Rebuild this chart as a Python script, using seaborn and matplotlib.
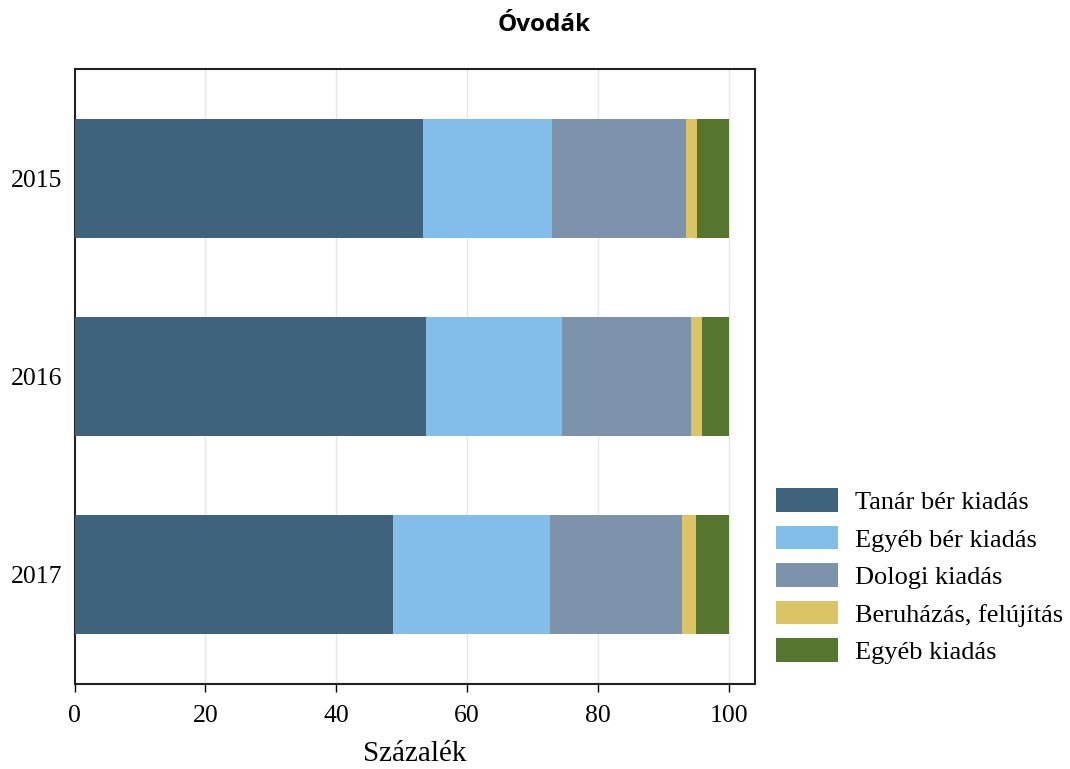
import matplotlib
matplotlib.use("Agg")
import matplotlib.pyplot as plt
import seaborn as sns
import pandas as pd
import numpy as np

years = ["2015", "2016", "2017"]
categories = ["Tanár bér kiadás", "Egyéb bér kiadás", "Dologi kiadás",
              "Beruházás, felújítás", "Egyéb kiadás"]
tanar_ber = [53.2, 53.7, 48.6]
egyeb_ber = [19.8, 20.8, 24.1]
dologi = [20.4, 19.7, 20.2]
beruhazas = [1.7, 1.7, 2.1]
egyeb = [4.9, 4.1, 5.0]
colors = ["#3f637d", "#83beea", "#7d93ab", "#dbc466", "#56752f"]

series = [tanar_ber, egyeb_ber, dologi, beruhazas, egyeb]

sns.set_theme(style="white")
plt.rcParams["font.family"] = ["Liberation Serif", "DejaVu Serif"]
plt.rcParams["text.color"] = "black"
plt.rcParams["axes.labelcolor"] = "black"
plt.rcParams["xtick.color"] = "black"
plt.rcParams["ytick.color"] = "black"

fig = plt.figure(figsize=(10.70, 7.69), dpi=100)
ax = fig.add_axes([74.5 / 1070, 1 - 684 / 769, (755 - 74.5) / 1070, (684 - 69) / 769])

left = np.zeros(len(years))
for cat, vals, col in zip(categories, series, colors):
    df = pd.DataFrame({"year": years, "value": np.array(vals) + left})
    sns.barplot(data=df, x="value", y="year", color=col, orient="h",
                width=0.6, ax=ax, label=cat,
                saturation=1, edgecolor="none", linewidth=0)
    left = left + np.array(vals)

# later (larger cumulative) bars must go behind earlier ones
for i, cont in enumerate(ax.containers):
    for p in cont:
        p.set_zorder(10 - i)

if ax.get_legend() is not None:
    ax.get_legend().remove()

ax.set_xlim(0, 104)
ax.set_ylim(2.55, -0.55)
ax.set_xticks([0, 20, 40, 60, 80, 100])
ax.xaxis.grid(True, color="#e6e6e6", linewidth=1, zorder=0)
ax.set_axisbelow(True)
ax.set_xlabel("Százalék", fontsize=21, labelpad=10)
ax.set_ylabel("")
ax.tick_params(axis="x", which="both", direction="out", length=6, width=1, colors="black",
               labelsize=18.5, bottom=True, pad=9)
ax.tick_params(axis="y", length=0, labelsize=18.5, pad=9)
for s in ax.spines.values():
    s.set_color("#222222")
    s.set_linewidth(1.5)

handles, labels = ax.get_legend_handles_labels()
leg = fig.legend(handles, labels, loc="lower left", bbox_to_anchor=(776 / 1070, 1 - 664 / 769),
                 frameon=False, fontsize=19, handlelength=2.35, handleheight=1.0,
                 labelspacing=0.44, handletextpad=0.65, borderaxespad=0, borderpad=0)

fig.suptitle("Óvodák", x=544 / 1070, y=1 - 25 / 769, va="center",
             fontsize=17.5, fontweight="bold", family=["Open Sans", "DejaVu Sans"])

fig.savefig("out.png", dpi=100)
